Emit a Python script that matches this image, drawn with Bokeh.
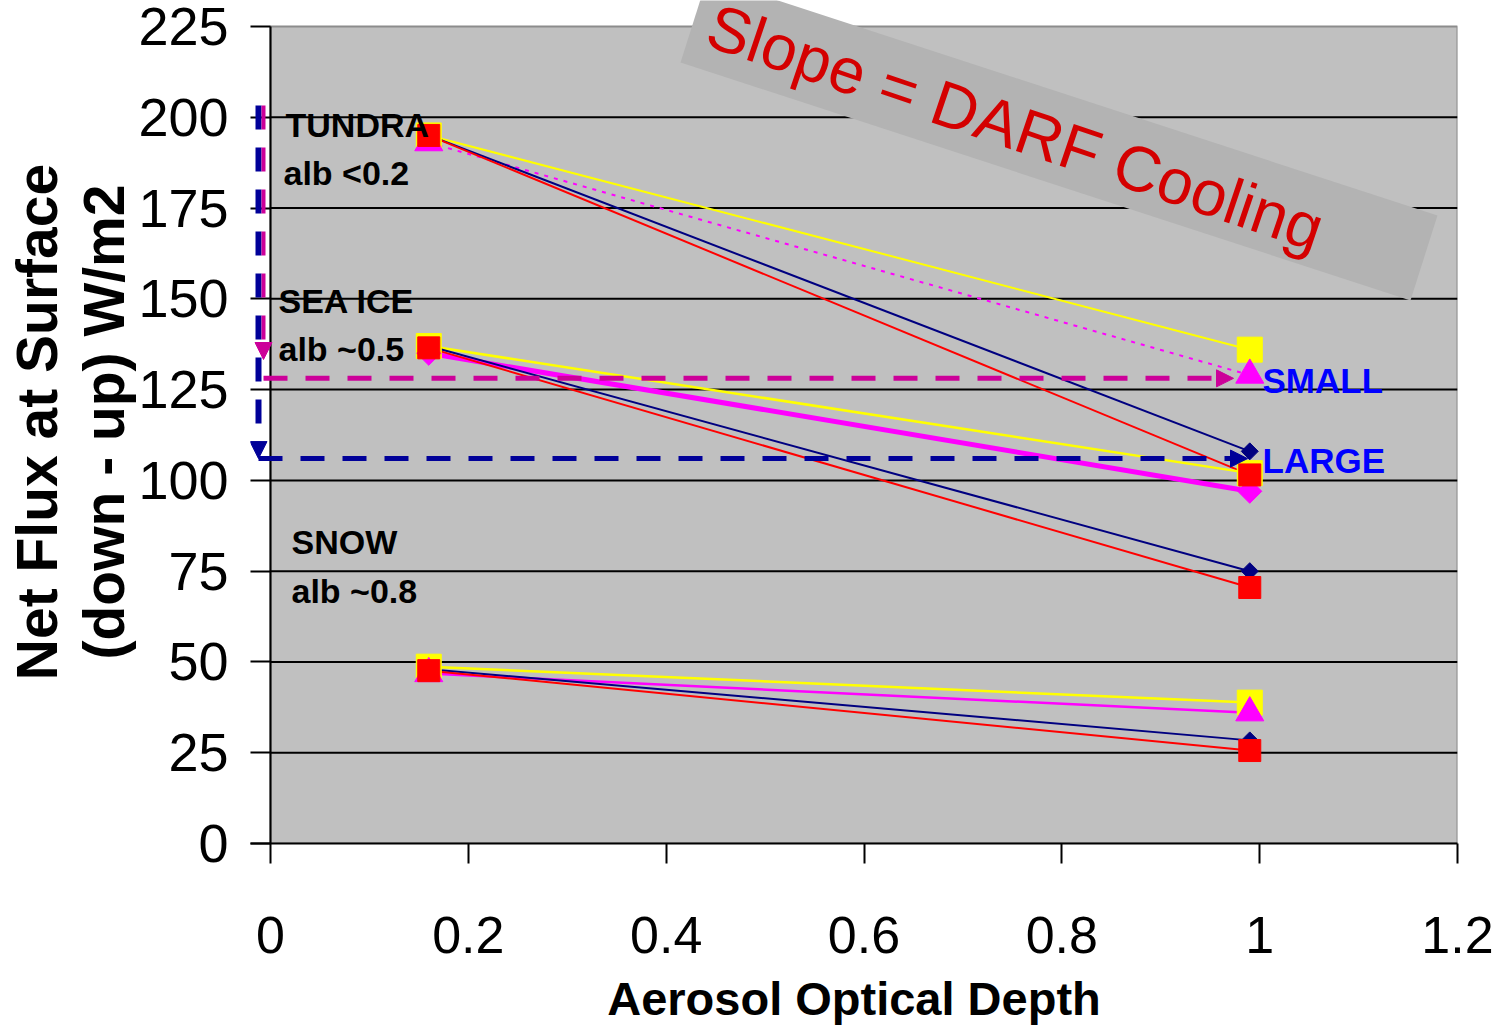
import math
from bokeh.plotting import figure
from bokeh.models import (Range1d, FixedTicker, Label, Arrow, NormalHead,
                          NumeralTickFormatter, LinearAxis)
from bokeh.embed import file_html
from bokeh.resources import INLINE

# ---------------- data ----------------
aod = [0.16, 0.99]

tundra_yellow = [195, 136]
tundra_magenta = [193, 129]
tundra_navy = [195, 108]
tundra_red = [195, 101.5]

seaice_yellow = [137, 102]
seaice_magenta = [135, 97]
seaice_navy = [137, 75]
seaice_red = [136.5, 70.5]

snow_yellow = [48.7, 38.8]
snow_magenta = [46.8, 36]
snow_navy = [48, 28.4]
snow_red = [47.6, 25.6]

small_level = 128.1
large_level = 106.0

x_ticks = [0, 0.2, 0.4, 0.6, 0.8, 1, 1.2]
y_ticks = [0, 25, 50, 75, 100, 125, 150, 175, 200, 225]
grid_values = [25, 50, 75, 100, 125, 150, 175, 200]

x_title = "Aerosol Optical Depth"
y_title_1 = "Net Flux at Surface"
y_title_2 = "(down - up) W/m2"

# ---------------- geometry ----------------
W, H = 1506, 1034
LEFT_B, RIGHT_B, TOP_B, BOTTOM_B = 250, 49, 0, 191
X0_PX, X12_PX = 270, 1457
Y0_PX, Y225_PX = 843, 26
px_per_x = (X12_PX - X0_PX) / 1.2
px_per_y = (Y0_PX - Y225_PX) / 225.0
x_start = -(X0_PX - LEFT_B) / px_per_x
frame_h = H - TOP_B - BOTTOM_B
y_end = frame_h / px_per_y


def sx(px):
    return (px - X0_PX) / px_per_x


def sy(py):
    return (Y0_PX - py) / px_per_y


SANS = "Liberation Sans"

YELLOW = "#ffff00"
MAGENTA = "#ff00ff"
NAVY = "#000080"
RED = "#ff0000"
DASH_MAG = "#cc0099"
DASH_NAVY = "#000099"

p = figure(width=W, height=H, x_range=Range1d(x_start, 1.2), y_range=Range1d(0, y_end),
           output_backend="svg", toolbar_location=None, title=None,
           min_border_left=LEFT_B, min_border_right=RIGHT_B,
           min_border_top=TOP_B, min_border_bottom=BOTTOM_B)
p.background_fill_color = "white"
p.border_fill_color = "white"
p.outline_line_color = None
p.grid.visible = False

# x axis
p.xaxis.ticker = FixedTicker(ticks=x_ticks)
p.xaxis.formatter = NumeralTickFormatter(format="0.[0]")
p.xaxis.axis_line_color = "black"
p.xaxis.axis_line_width = 2
p.xaxis.major_tick_in = 0
p.xaxis.major_tick_out = 20
p.xaxis.major_tick_line_width = 2
p.xaxis.minor_tick_line_color = None
p.xaxis.major_label_standoff = 53
p.xaxis.major_label_text_font = SANS
p.xaxis.major_label_text_font_size = "52px"
p.xaxis.major_label_text_color = "black"
p.xaxis.axis_label = x_title
p.xaxis.axis_label_standoff = 16
p.xaxis.axis_label_text_font = SANS
p.xaxis.axis_label_text_font_style = "bold"
p.xaxis.axis_label_text_font_size = "47px"
p.xaxis.axis_label_text_color = "black"

# y axis
p.yaxis.ticker = FixedTicker(ticks=y_ticks)
p.yaxis.axis_line_color = None
p.yaxis.major_tick_in = 20
p.yaxis.major_tick_out = 0
p.yaxis.major_tick_line_width = 2
p.yaxis.minor_tick_line_color = None
p.yaxis.major_label_standoff = 22
p.yaxis.major_label_text_font = SANS
p.yaxis.major_label_text_font_size = "54px"
p.yaxis.major_label_text_color = "black"

# two-line y title as two label-only axes
for title in (y_title_2, y_title_1):
    ax = LinearAxis(ticker=FixedTicker(ticks=[]), axis_label=title,
                    axis_line_color=None, major_tick_line_color=None,
                    minor_tick_line_color=None, major_tick_out=0, major_tick_in=0,
                    minor_tick_out=0, minor_tick_in=0, major_label_standoff=0,
                    major_label_text_font_size="0px", axis_label_standoff=0,
                    axis_label_text_font=SANS, axis_label_text_font_style="bold",
                    axis_label_text_font_size="57px", axis_label_text_color="black")
    p.add_layout(ax, "left")

# plot area background and grid
p.quad(left=[x_ticks[0]], right=[x_ticks[-1]], bottom=[y_ticks[0]], top=[y_ticks[-1]],
       fill_color="#c0c0c0", line_color="#8c8c8c", line_width=2)
p.segment(x0=[x_ticks[0]] * len(grid_values), x1=[x_ticks[-1]] * len(grid_values),
          y0=grid_values, y1=grid_values, line_color="black", line_width=2)
p.segment(x0=[0], x1=[0], y0=[y_ticks[0]], y1=[y_ticks[-1]], line_color="black", line_width=2)

# lines
p.line(aod, tundra_yellow, line_color=YELLOW, line_width=2)
p.line(aod, tundra_magenta, line_color=MAGENTA, line_width=2, line_dash="4 6")
p.line(aod, tundra_navy, line_color=NAVY, line_width=2)
p.line(aod, tundra_red, line_color=RED, line_width=2)

p.line(aod, seaice_yellow, line_color=YELLOW, line_width=2.5)
p.line(aod, seaice_magenta, line_color=MAGENTA, line_width=5)
p.line(aod, seaice_navy, line_color=NAVY, line_width=2)
p.line(aod, seaice_red, line_color=RED, line_width=2)

p.line(aod, snow_yellow, line_color=YELLOW, line_width=2.5)
p.line(aod, snow_magenta, line_color=MAGENTA, line_width=2.5)
p.line(aod, snow_navy, line_color=NAVY, line_width=2)
p.line(aod, snow_red, line_color=RED, line_width=2)

# markers (yellow, magenta, navy, red order)
for ys in (tundra_yellow, seaice_yellow, snow_yellow):
    p.scatter(aod, ys, marker="square", size=25, fill_color=YELLOW, line_color=YELLOW)
for ys in (tundra_magenta, snow_magenta):
    p.scatter(aod, ys, marker="triangle", size=28, fill_color=MAGENTA, line_color=MAGENTA)
p.scatter(aod, seaice_magenta, marker="square", angle=math.pi / 4, size=17,
          fill_color=MAGENTA, line_color=MAGENTA)
for ys in (tundra_navy, seaice_navy, snow_navy):
    p.scatter(aod, ys, marker="square", angle=math.pi / 4, size=12, fill_color=NAVY, line_color=NAVY)
for ys in (tundra_red, seaice_red, snow_red):
    p.scatter(aod, ys, marker="square", size=22, fill_color=RED, line_color=RED)

# tilted grey note box
box_px = [(707, -23), (680, 62), (1410, 300), (1437, 215)]
p.patch([sx(a) for a, b in box_px], [sy(b) for a, b in box_px],
        fill_color="#b3b3b3", line_color=None)
p.add_layout(Label(x=sx(1015), y=sy(127), text="Slope = DARF Cooling",
                   angle=-18.7 * math.pi / 180, text_align="center", text_baseline="middle",
                   text_font=SANS, text_font_size="64px", text_color="#d40000"))

# dashed arrows
vx_navy = sx(258)
vx_mag = sx(263)
top_dash = sy(105)
p.add_layout(Arrow(end=NormalHead(size=17, fill_color=DASH_NAVY, line_color=DASH_NAVY),
                   x_start=vx_navy, y_start=top_dash, x_end=vx_navy, y_end=large_level,
                   line_color=DASH_NAVY, line_width=6, line_dash="24 18"))
p.add_layout(Arrow(end=NormalHead(size=17, fill_color=DASH_MAG, line_color=DASH_MAG),
                   x_start=vx_mag, y_start=top_dash, x_end=vx_mag, y_end=sy(359),
                   line_color=DASH_MAG, line_width=4, line_dash="24 18"))
p.add_layout(Arrow(end=NormalHead(size=17, fill_color=DASH_MAG, line_color=DASH_MAG),
                   x_start=vx_mag, y_start=small_level, x_end=sx(1233), y_end=small_level,
                   line_color=DASH_MAG, line_width=5, line_dash="24 18"))
p.add_layout(Arrow(end=NormalHead(size=17, fill_color=DASH_NAVY, line_color=DASH_NAVY),
                   x_start=vx_navy, y_start=large_level, x_end=sx(1247), y_end=large_level,
                   line_color=DASH_NAVY, line_width=5, line_dash="24 18"))


# text labels in the plot
def txt(x, y, s, color="black", size="34px"):
    p.add_layout(Label(x=x, y=y, text=s, text_align="left", text_baseline="alphabetic",
                       text_font=SANS, text_font_style="bold",
                       text_font_size=size, text_color=color))


txt(sx(285), sy(124), "TUNDRA")
txt(sx(283), sy(172), "alb <0.2")
txt(sx(278), sy(300), "SEA ICE")
txt(sx(278), sy(348), "alb ~0.5")
txt(sx(291), sy(541), "SNOW")
txt(sx(291), sy(590), "alb ~0.8")
txt(sx(1262), sy(380), "SMALL", color="#0000ff", size="35px")
txt(sx(1262), sy(460), "LARGE", color="#0000ff", size="35px")

open("out.html", "w").write(file_html(p, INLINE))
